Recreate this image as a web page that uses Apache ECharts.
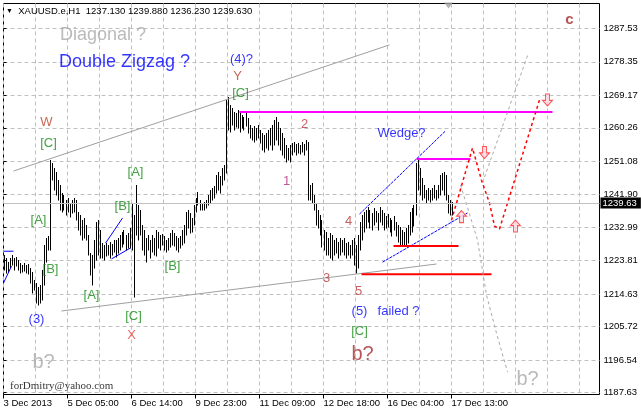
<!DOCTYPE html>
<html><head><meta charset="utf-8">
<script src="https://cdn.jsdelivr.net/npm/echarts@6/dist/echarts.min.js"></script>
<style>html,body{margin:0;padding:0;background:#fff}#c{width:641px;height:411px}</style>
</head><body><div id="c"></div>
<script>
// ---- axis labels ----
const xTickLabels = ['3 Dec 2013','5 Dec 05:00','6 Dec 14:00','9 Dec 23:00','11 Dec 09:00','12 Dec 18:00','16 Dec 04:00','17 Dec 13:00'];
const yTickLabels = ['1187.63','1196.54','1205.72','1214.63','1223.81','1232.99','1241.90','1251.08','1260.26','1269.17','1278.35','1287.53'];
const symbolName = 'XAUUSD.e,H1';

// ---- H1 bars (high / low) ----
const highs = [
1225.4,1224.5,1223.4,1224.5,1225.4,1224.5,1224.8,1224.0,1223.1,1222.6,
1223.1,1222.6,1222.9,1221.8,1220.7,1218.5,1217.7,1216.6,1217.1,1221.2,
1228.1,1230.0,1230.6,1251.4,1250.6,1249.2,1248.1,1245.9,1244.6,1242.4,
1241.8,1240.4,1241.0,1239.6,1240.4,1241.0,1240.4,1237.1,1236.3,1235.0,
1235.5,1233.6,1230.8,1225.9,1225.4,1229.5,1234.4,1235.0,1232.2,1228.6,
1228.1,1228.6,1228.1,1228.9,1228.4,1229.5,1229.5,1230.0,1230.8,1231.7,
1232.2,1230.8,1231.4,1232.8,1239.6,1236.3,1244.6,1239.1,1237.7,1233.6,
1232.2,1230.0,1230.8,1229.5,1230.8,1230.0,1232.2,1231.7,1230.8,1231.1,
1230.6,1229.5,1230.0,1231.4,1232.2,1231.4,1230.6,1230.0,1230.6,1232.2,
1233.6,1237.1,1237.7,1236.9,1235.5,1239.1,1241.0,1242.6,1240.4,1239.6,
1239.9,1240.4,1241.8,1243.2,1243.7,1244.3,1247.3,1248.1,1247.0,1249.2,
1250.0,1267.9,1268.7,1266.5,1265.7,1264.6,1264.3,1265.1,1264.6,1263.8,
1263.2,1264.3,1262.9,1261.0,1260.2,1260.7,1260.2,1261.0,1259.6,1258.8,
1258.3,1258.8,1259.6,1260.2,1261.0,1262.4,1263.2,1261.8,1260.2,1258.8,
1257.4,1255.5,1254.7,1255.5,1256.1,1256.3,1255.8,1256.1,1255.5,1256.3,
1255.8,1256.9,1256.3,1244.6,1245.1,1241.8,1239.6,1237.7,1236.3,1235.0,
1232.2,1231.7,1230.0,1231.4,1230.8,1229.5,1230.0,1228.9,1230.0,1229.5,
1230.0,1228.6,1228.9,1228.1,1229.5,1230.0,1228.1,1230.8,1234.4,1236.3,
1237.1,1237.7,1238.5,1237.7,1236.9,1238.2,1237.4,1236.9,1238.5,1237.7,
1236.9,1236.0,1236.6,1235.5,1235.0,1236.0,1234.4,1233.6,1233.0,1232.2,
1231.7,1232.8,1233.6,1237.1,1238.2,1239.1,1250.6,1251.7,1249.2,1246.5,
1244.6,1243.2,1243.7,1243.2,1243.7,1244.6,1243.2,1244.6,1247.3,1247.8,
1248.1,1247.3,1241.8,1240.4,1239.88
];
const lows = [
1221.2,1220.4,1220.7,1221.8,1222.6,1221.2,1222.3,1221.2,1220.4,1220.7,
1221.0,1220.4,1220.1,1217.7,1214.9,1215.7,1212.2,1211.6,1212.2,1213.0,
1217.1,1223.4,1226.7,1226.7,1245.9,1243.2,1241.8,1240.4,1237.7,1237.1,
1237.7,1236.3,1237.1,1235.8,1236.9,1237.1,1235.0,1232.2,1230.8,1229.5,
1230.0,1229.5,1225.4,1219.9,1217.1,1221.8,1224.0,1225.4,1224.5,1224.5,
1224.0,1225.1,1225.4,1224.5,1225.4,1226.2,1224.8,1225.9,1226.7,1227.5,
1228.4,1226.7,1227.3,1227.3,1226.7,1213.8,1230.8,1229.5,1230.8,1226.7,
1225.4,1223.4,1226.7,1224.5,1226.2,1225.4,1225.1,1227.3,1226.7,1228.1,
1226.7,1226.2,1226.7,1227.5,1228.1,1227.8,1226.7,1226.2,1227.3,1228.1,
1228.6,1230.8,1232.8,1231.4,1231.7,1233.6,1237.1,1239.1,1237.7,1237.7,
1237.7,1238.2,1239.1,1239.6,1240.4,1241.0,1242.4,1243.2,1242.4,1244.6,
1245.9,1247.8,1259.6,1259.1,1261.0,1259.6,1260.5,1260.2,1259.1,1260.2,
1259.6,1260.7,1258.8,1257.4,1256.9,1256.3,1256.9,1257.4,1256.1,1254.2,
1253.6,1254.7,1254.2,1255.5,1254.2,1255.5,1256.9,1255.5,1254.2,1252.8,
1252.0,1250.9,1251.4,1250.9,1252.8,1253.6,1252.8,1253.3,1253.1,1253.6,
1252.8,1254.2,1240.4,1240.4,1239.6,1237.7,1233.6,1232.8,1230.8,1227.5,
1226.7,1225.4,1225.4,1224.5,1224.0,1225.4,1225.9,1224.5,1225.4,1226.2,
1225.4,1224.5,1225.4,1224.5,1225.4,1222.6,1220.4,1221.8,1226.7,1229.5,
1231.7,1232.8,1234.4,1232.8,1232.2,1233.6,1234.4,1232.2,1234.4,1233.6,
1232.2,1232.8,1233.0,1231.7,1230.6,1232.2,1230.6,1228.9,1228.1,1227.8,
1228.1,1228.1,1228.6,1230.8,1231.7,1233.3,1236.3,1243.2,1241.8,1240.4,
1241.0,1239.6,1240.4,1239.9,1240.4,1241.0,1240.4,1241.0,1241.8,1243.2,
1241.8,1240.4,1236.9,1236.3,1236.23
];
// last bar: open, high, low, close
const lastOHLC = [1237.13, 1239.88, 1236.23, 1239.63];

// ---- hand drawn analysis objects, as [bar index, price] ----
const upperChannel = [[5,1248.4],[193,1283.0]];
const lowerChannel = [[29,1210.0],[216.5,1222.9]];
const magentaLong = [[118,1264.6],[274.5,1264.6]];
const magentaShort = [[206.5,1251.7],[233.5,1251.7]];
const wedgeUpper = [[178,1236.6],[221,1259.4]];
const wedgeLower = [[189.5,1223.4],[232,1236.9]];
const redLevel1 = [[195,1227.8],[227.5,1227.8]];
const redLevel2 = [[179,1220.1],[244,1220.1]];
const redPath = [[224,1234.9],[234.5,1254.7],[239,1245.9],[243,1239.6],[245.5,1233.3],[248,1232.5],[252,1239.6],[268,1267.9]];
const grayPathUp = [[240.5,1246.7],[262.5,1280.8]];
const grayPathDown = [[228.5,1244.6],[237,1229.5],[241.5,1214.4],[246.5,1203.9],[252,1193.3]];
const blueLeftH = [[0,1226.4],[5,1226.4]];
const blueLeftD = [[0,1217.7],[4,1222.3]];
const blueTriUpper = [[51,1228.6],[59.5,1235.5]];
const blueTriLower = [[54,1224.3],[63.5,1227.3]];
const upArrows = [[229,1235.9],[256,1233.3]];
const downArrows = [[240.5,1253.5],[272,1267.9]];
const shiftMarker = [[222.5,1293.8]];

// text notes: [text, bar, price, style, anchor]
const notes = [
 ['Diagonal ?', 28, 1285.7, 'grayBig', 'left'],
 ['Double Zigzag ?', 27.5, 1278.3, 'blueBig', 'left'],
 ['(4)?', 119, 1279.1, 'blue'],
 ['Y', 117, 1274.4, 'brown'],
 ['[C]', 118.5, 1269.8, 'green'],
 ['W', 21.5, 1261.8, 'brown'],
 ['[C]', 22.5, 1256.1, 'green'],
 ['[A]', 17.5, 1234.9, 'green'],
 ['[B]', 23.5, 1221.5, 'green'],
 ['(3)', 16.5, 1207.8, 'blue'],
 ['[A]', 44, 1214.4, 'green'],
 ['[B]', 59.5, 1238.8, 'green'],
 ['[A]', 66, 1248.1, 'green'],
 ['[B]', 84.5, 1222.1, 'green'],
 ['[C]', 65, 1208.6, 'green'],
 ['X', 64, 1203.4, 'red'],
 ['b?', 20, 1196.0, 'grayQ'],
 ['2', 150.5, 1261.3, 'wave'],
 ['1', 141.5, 1245.6, 'wave1'],
 ['3', 161.5, 1219.0, 'wave'],
 ['4', 172.5, 1234.7, 'wave'],
 ['5', 177.5, 1215.5, 'wave'],
 ['(5)', 178, 1210.0, 'blue'],
 ['failed ?', 197.5, 1210.0, 'blue'],
 ['[C]', 178, 1204.5, 'green'],
 ['b?', 179.5, 1198.2, 'brownQ'],
 ['Wedge?', 199, 1258.8, 'blue'],
 ['c', 283, 1289.8, 'brownC'],
 ['b?', 262, 1191.1, 'grayQ'],
 ['forDmitry@yahoo.com', 3, 1189.4, 'mail', 'left']
];

// ---- build ----
const FONT = '"Liberation Sans", Arial, sans-serif';
const N_SLOTS = 299;
const categories = Array.from({length: N_SLOTS}, (_, i) => (i % 32 === 0 && xTickLabels[i / 32]) || '');
const yTicks = yTickLabels.map(Number);
const barData = highs.map((h, i) => [i, lows[i], h]);
const lastClose = lastOHLC[3];

const styles = {
  grayBig: {color:'#a9a9a9', fontSize:18},
  blueBig: {color:'#0000ff', fontSize:18},
  blue: {color:'#0000ff', fontSize:13},
  brown: {color:'#b8402a', fontSize:13},
  green: {color:'#138a13', fontSize:13},
  red: {color:'#e0443a', fontSize:13},
  grayQ: {color:'#a9a9a9', fontSize:20},
  brownQ: {color:'#a52a2a', fontSize:20},
  wave: {color:'#b83a3a', fontSize:13},
  wave1: {color:'#b0307a', fontSize:13},
  brownC: {color:'#a52a2a', fontSize:15, fontWeight:'bold'},
  mail: {color:'#000', fontSize:11, fontFamily:'"Liberation Serif", "Times New Roman", serif'}
};

function lineSeries(pts, color, width, type) {
  return {type:'line', xAxisIndex:1, yAxisIndex:0, data:pts, symbol:'none', silent:true, z:4,
    lineStyle:{color:color, width:width, type:type}};
}

const chart = echarts.init(document.getElementById('c'), null, {renderer:'canvas'});
chart.setOption({
  animation: false,
  backgroundColor: '#fff',
  title: {
    text: '{t|▼}  ' + symbolName + '  ' + lastOHLC.map(v => v.toFixed(3)).join(' '),
    left: 6, top: 6, padding: 0,
    textStyle: {fontSize: 9.5, fontWeight: 'normal', color: '#000', fontFamily: FONT,
      rich: {t: {fontSize: 7, color:'#000'}}}
  },
  grid: {left: 3.5, right: 41.5, top: 3.5, bottom: 16.5, show: true, borderColor: '#000', borderWidth: 1, backgroundColor: '#fff'},
  xAxis: [{
    type: 'category', data: categories, boundaryGap: false,
    axisLine: {show: false},
    axisTick: {show: true, length: 4, interval: (i, v) => v !== '', lineStyle: {color: '#000'}},
    axisLabel: {interval: (i, v) => v !== '', align: 'left', color: '#000', fontSize: 9.5, fontFamily: FONT, margin: 4},
    splitLine: {show: true, interval: 15, lineStyle: {color: '#c0c0c0', type: [4, 3], width: 1}}
  }, {
    type: 'value', min: 0, max: N_SLOTS - 1, show: false
  }],
  yAxis: [{
    type: 'value', position: 'right', min: 1187.1, max: 1294.35, scale: true,
    axisLine: {show: false},
    axisTick: {show: true, length: 3, customValues: yTicks, lineStyle: {color: '#000'}},
    axisLabel: {customValues: yTicks, formatter: v => v.toFixed(2), color: '#000', fontSize: 9.5, fontFamily: FONT, margin: 4},
    splitLine: {show: true, lineStyle: {color: '#c0c0c0', type: [4, 3], width: 1}}
  }],
  series: [
    {
      type: 'line', xAxisIndex: 1, yAxisIndex: 0, data: [], silent: true, z: 2,
      markLine: {
        silent: true, symbol: ['none', 'none'], animation: false,
        data: [{
          yAxis: lastClose,
          lineStyle: {color: '#c0c0c0', type: 'solid', width: 1},
          label: {show: true, position: 'end', distance: 1, formatter: lastClose.toFixed(2),
            backgroundColor: '#000', color: '#fff', padding: [1, 4, 0, 2], fontSize: 9.5, fontFamily: FONT}
        }]
      }
    },
    {
      type: 'custom', xAxisIndex: 0, yAxisIndex: 0, data: barData, silent: true, z: 3,
      encode: {x: 0, y: [1, 2]},
      renderItem: function (params, api) {
        const i = api.value(0);
        const lo = api.coord([i, api.value(1)]);
        const hi = api.coord([i, api.value(2)]);
        const x = Math.round(lo[0]) + 0.5;
        return {type: 'line', shape: {x1: x, y1: Math.round(lo[1]) + 0.5, x2: x, y2: Math.round(hi[1])},
          style: {stroke: '#000', lineWidth: 1}};
      }
    },
    lineSeries(upperChannel, '#a0a0a0', 1, 'solid'),
    lineSeries(lowerChannel, '#a0a0a0', 1, 'solid'),
    lineSeries(magentaLong, '#ff00ff', 2, 'solid'),
    lineSeries(magentaShort, '#ff00ff', 2, 'solid'),
    lineSeries(wedgeUpper, '#0000ff', 1, [3, 1]),
    lineSeries(wedgeLower, '#0000ff', 1, [3, 1]),
    lineSeries(redLevel1, '#ff0000', 2, 'solid'),
    lineSeries(redLevel2, '#ff0000', 2, 'solid'),
    lineSeries(redPath, '#ff0000', 1.5, [3, 3]),
    lineSeries(grayPathUp, '#a8a8a8', 1, [3, 3]),
    lineSeries(grayPathDown, '#a8a8a8', 1, [3, 3]),
    lineSeries(blueLeftH, '#0000ff', 1, 'solid'),
    lineSeries(blueLeftD, '#0000ff', 1, 'solid'),
    lineSeries(blueTriUpper, '#0000ff', 1, 'solid'),
    lineSeries(blueTriLower, '#0000ff', 1, 'solid'),
    {
      type: 'scatter', xAxisIndex: 1, data: upArrows, silent: true, z: 5,
      symbol: 'path://M5,0 L10,6 L7,6 L7,13 L3,13 L3,6 L0,6 Z', symbolSize: [10, 12],
      itemStyle: {color: '#ffd6e0', borderColor: '#ff2a2a', borderWidth: 1}
    },
    {
      type: 'scatter', xAxisIndex: 1, data: downArrows, silent: true, z: 5,
      symbol: 'path://M3,0 L7,0 L7,7 L10,7 L5,13 L0,7 L3,7 Z', symbolSize: [10, 12],
      itemStyle: {color: '#ffd6e0', borderColor: '#ff2a2a', borderWidth: 1}
    },
    {
      type: 'scatter', xAxisIndex: 1, data: shiftMarker, silent: true, z: 5,
      symbol: 'triangle', symbolRotate: 180, symbolSize: [9, 6],
      itemStyle: {color: '#a0a0a0'}
    },
    {
      type: 'scatter', xAxisIndex: 1, silent: true, z: 6, symbolSize: 1,
      itemStyle: {color: 'rgba(0,0,0,0)'},
      data: notes.map(n => ({
        value: [n[1], n[2]],
        label: Object.assign({show: true, formatter: n[0], fontFamily: FONT,
          position: n[4] === 'left' ? 'right' : 'inside', distance: 0}, styles[n[3]])
      }))
    }
  ]
});
</script>
</body></html>
